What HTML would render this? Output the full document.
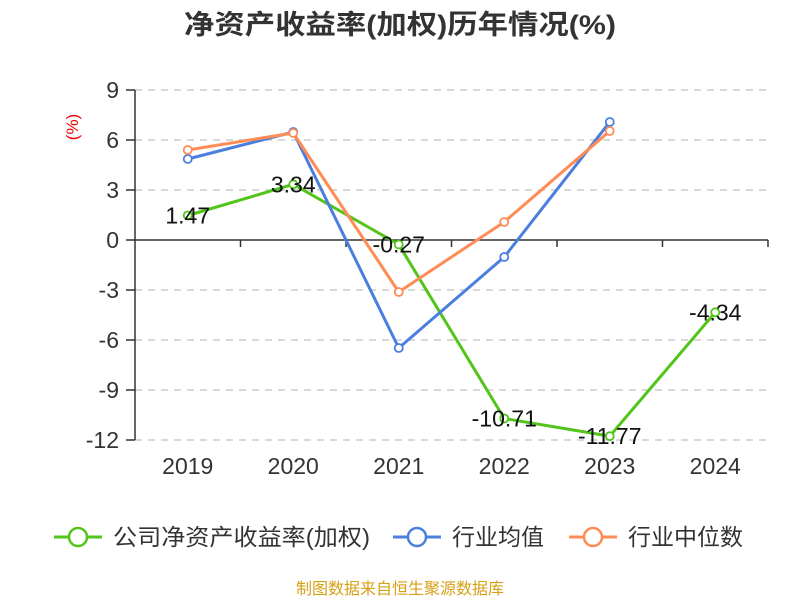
<!DOCTYPE html>
<html><head><meta charset="utf-8"><style>
body{margin:0;background:#fff;width:800px;height:600px;overflow:hidden;font-family:"Liberation Sans","Noto Sans CJK SC",sans-serif}
</style></head><body>
<svg id="chart" width="800" height="600" xmlns="http://www.w3.org/2000/svg" font-family="Liberation Sans, Noto Sans CJK SC, sans-serif">
<text x="400" y="34" text-anchor="middle" font-size="27" font-weight="bold" fill="#333" textLength="432" lengthAdjust="spacingAndGlyphs">净资产收益率(加权)历年情况(%)</text>
<text transform="translate(78,127) rotate(-90)" text-anchor="middle" font-size="17" fill="#e00">(%)</text>
<g id="grid"></g><g id="axes"></g><g id="series"></g>
<g font-size="23" fill="#333">
<g><line x1="54" y1="537" x2="102" y2="537" stroke="#52c41a" stroke-width="3"/><circle cx="78" cy="537" r="9" fill="#fff" stroke="#52c41a" stroke-width="2.5"/><text x="113" y="545" textLength="257" lengthAdjust="spacingAndGlyphs">公司净资产收益率(加权)</text></g>
<g><line x1="393" y1="537" x2="441" y2="537" stroke="#4a7fe0" stroke-width="3"/><circle cx="417" cy="537" r="9" fill="#fff" stroke="#4a7fe0" stroke-width="2.5"/><text x="452" y="545">行业均值</text></g>
<g><line x1="569" y1="537" x2="617" y2="537" stroke="#ff8c55" stroke-width="3"/><circle cx="593" cy="537" r="9" fill="#fff" stroke="#ff8c55" stroke-width="2.5"/><text x="628" y="545">行业中位数</text></g>
</g>
<text x="400" y="594" text-anchor="middle" font-size="16" fill="#d4a017">制图数据来自恒生聚源数据库</text>
</svg>
<script>
const categories=["2019","2020","2021","2022","2023","2024"];
const yTicks=[9,6,3,0,-3,-6,-9,-12];
const company=[1.47,3.34,-0.27,-10.71,-11.77,-4.34];
const companyLabels=["1.47","3.34","-0.27","-10.71","-11.77","-4.34"];
const industryAvg=[4.86,6.48,-6.48,-1.02,7.08,null];
const industryMedian=[5.4,6.42,-3.12,1.08,6.54,null];
const NS="http://www.w3.org/2000/svg";
const x0=135,x1=768,yTop=90,yBot=440,yMax=9,yMin=-12;
const bw=(x1-x0)/categories.length;
const xs=i=>x0+bw*(i+0.5);
const ys=v=>yTop+(yMax-v)/(yMax-yMin)*(yBot-yTop);
function mk(t,a,p){const e=document.createElementNS(NS,t);for(const k in a)e.setAttribute(k,a[k]);p.appendChild(e);return e;}
const grid=document.getElementById('grid'),axes=document.getElementById('axes'),ser=document.getElementById('series');
yTicks.forEach(v=>{
 if(v!==0){const g=mk('line',{x1:x0,x2:x1,y1:ys(v),y2:ys(v),stroke:'#ccc','stroke-width':1.5,'stroke-dasharray':'7,6'},grid);
 
 }
 const tk=mk('line',{x1:x0-9,x2:x0,y1:ys(v),y2:ys(v),stroke:'#333','stroke-width':1.5},axes);
 
 
 const t=mk('text',{x:x0-16,y:ys(v)+8,'text-anchor':'end','font-size':23,fill:'#333'},axes);t.textContent=v;
 
 
});
const ya=mk('line',{x1:x0,x2:x0,y1:yTop,y2:yBot,stroke:'#333','stroke-width':1.5},axes);


const xa=mk('line',{x1:x0,x2:x1,y1:ys(0),y2:ys(0),stroke:'#333','stroke-width':1.5},axes);


categories.forEach((c,i)=>{
 const tk=mk('line',{x1:x0+bw*(i+1),x2:x0+bw*(i+1),y1:ys(0),y2:ys(0)+7,stroke:'#333','stroke-width':1.5},axes);
 
 
 const t=mk('text',{x:xs(i),y:474,'text-anchor':'middle','font-size':23,fill:'#333'},axes);t.textContent=c;
 
 
});
function drawSeries(vals,color,name){
 const pts=[];vals.forEach((v,i)=>{if(v!==null)pts.push([xs(i),ys(v)]);});
 const l=mk('polyline',{points:pts.map(p=>p.join(',')).join(' '),fill:'none',stroke:color,'stroke-width':3,'stroke-linejoin':'round'},ser);
 
 
 pts.forEach(p=>{const c=mk('circle',{cx:p[0],cy:p[1],r:4,fill:'#fff',stroke:color,'stroke-width':1.8},ser);
 
 });
}
drawSeries(company,'#52c41a','company');
drawSeries(industryAvg,'#4a7fe0','industry-avg');
drawSeries(industryMedian,'#ff8c55','industry-median');
company.forEach((v,i)=>{
 const t=mk('text',{x:xs(i),y:ys(v)+8,'text-anchor':'middle','font-size':23,fill:'#111'},ser);t.textContent=companyLabels[i];
 
 
});
</script>
</body></html>
